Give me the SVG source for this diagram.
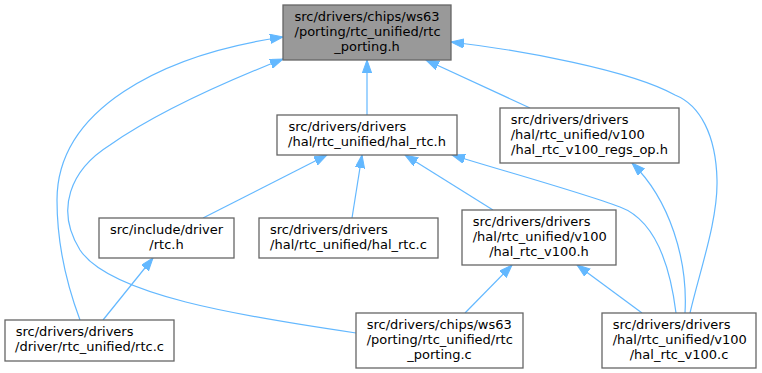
<svg xmlns="http://www.w3.org/2000/svg" width="762" height="373" viewBox="0 0 762 373">
<style>
.n rect{fill:#ffffff;stroke:#666666;stroke-width:1.3}
.n.root rect{fill:#999999}
.n text{font-family:"DejaVu Sans",sans-serif;font-size:13px;fill:#000000}
.l{text-anchor:start}
.m{text-anchor:middle}
.e path{fill:none;stroke:#63b8ff;stroke-width:1.2;marker-end:url(#ah)}
</style>
<defs>
<marker id="ah" markerUnits="userSpaceOnUse" markerWidth="14" markerHeight="10" refX="13" refY="4.65" orient="auto">
<path d="M0,0 L13,4.65 L0,9.3 z" fill="#63b8ff" stroke="#63b8ff" stroke-width="1"/>
</marker>
</defs>
<rect width="762" height="373" fill="#ffffff"/>
<g id="edges" class="e">
<path d="M367,115 L367,60"/>
<path d="M530,108 L426,60"/>
<path d="M690,313 C700,270 718,220 717,180 C716,135 700,105 675,95 C630,70 520,50 451,42"/>
<path d="M80,320 C65,280 57,240 57,200 C57,110 160,55 283,37"/>
<path d="M356,333 C240,316 110,295 80,250 C55,210 70,170 110,145 C160,110 230,80 283,59"/>
<path d="M203,218 L327,155"/>
<path d="M352,218 L362,155"/>
<path d="M493,210 L405,155"/>
<path d="M676,313 C670,265 655,220 620,207 C580,192 500,170 452,155"/>
<path d="M103,320 L153,258"/>
<path d="M465,313 L512,265"/>
<path d="M642,313 L577,265"/>
<path d="M685,313 C688,260 670,200 632,163"/>
</g>
<g id="rtc_porting_h" class="n root">
<rect x="283" y="5" width="168" height="55"/>
<text class="l" x="294.5" y="21">src/drivers/chips/ws63</text>
<text class="l" x="294.5" y="36">/porting/rtc_unified/rtc</text>
<text class="m" x="367" y="51">_porting.h</text>
</g>
<g id="hal_rtc_h" class="n">
<rect x="277" y="115" width="180" height="40"/>
<text class="l" x="288.5" y="130.5">src/drivers/drivers</text>
<text class="m" x="367" y="145.5">/hal/rtc_unified/hal_rtc.h</text>
</g>
<g id="hal_rtc_v100_regs_op_h" class="n">
<rect x="500" y="108" width="179" height="55"/>
<text class="l" x="510.7" y="124">src/drivers/drivers</text>
<text class="l" x="510.7" y="139">/hal/rtc_unified/v100</text>
<text class="m" x="589.5" y="154">/hal_rtc_v100_regs_op.h</text>
</g>
<g id="rtc_h" class="n">
<rect x="99" y="218" width="135" height="40"/>
<text class="l" x="110" y="233.5">src/include/driver</text>
<text class="m" x="166.5" y="248.5">/rtc.h</text>
</g>
<g id="hal_rtc_c" class="n">
<rect x="259" y="218" width="179" height="40"/>
<text class="l" x="270" y="233.5">src/drivers/drivers</text>
<text class="m" x="348.5" y="248.5">/hal/rtc_unified/hal_rtc.c</text>
</g>
<g id="hal_rtc_v100_h" class="n">
<rect x="462" y="210" width="154" height="55"/>
<text class="l" x="472.7" y="226">src/drivers/drivers</text>
<text class="l" x="472.7" y="241">/hal/rtc_unified/v100</text>
<text class="m" x="539" y="256">/hal_rtc_v100.h</text>
</g>
<g id="rtc_c" class="n">
<rect x="5" y="320" width="169" height="41"/>
<text class="l" x="15.7" y="335.5">src/drivers/drivers</text>
<text class="m" x="89.5" y="350.5">/driver/rtc_unified/rtc.c</text>
</g>
<g id="rtc_porting_c" class="n">
<rect x="356" y="313" width="167" height="55"/>
<text class="l" x="366.7" y="329">src/drivers/chips/ws63</text>
<text class="l" x="366.7" y="344">/porting/rtc_unified/rtc</text>
<text class="m" x="439.5" y="359">_porting.c</text>
</g>
<g id="hal_rtc_v100_c" class="n">
<rect x="602" y="313" width="154" height="55"/>
<text class="l" x="612.7" y="329">src/drivers/drivers</text>
<text class="l" x="612.7" y="344">/hal/rtc_unified/v100</text>
<text class="m" x="679" y="359">/hal_rtc_v100.c</text>
</g>
</svg>
